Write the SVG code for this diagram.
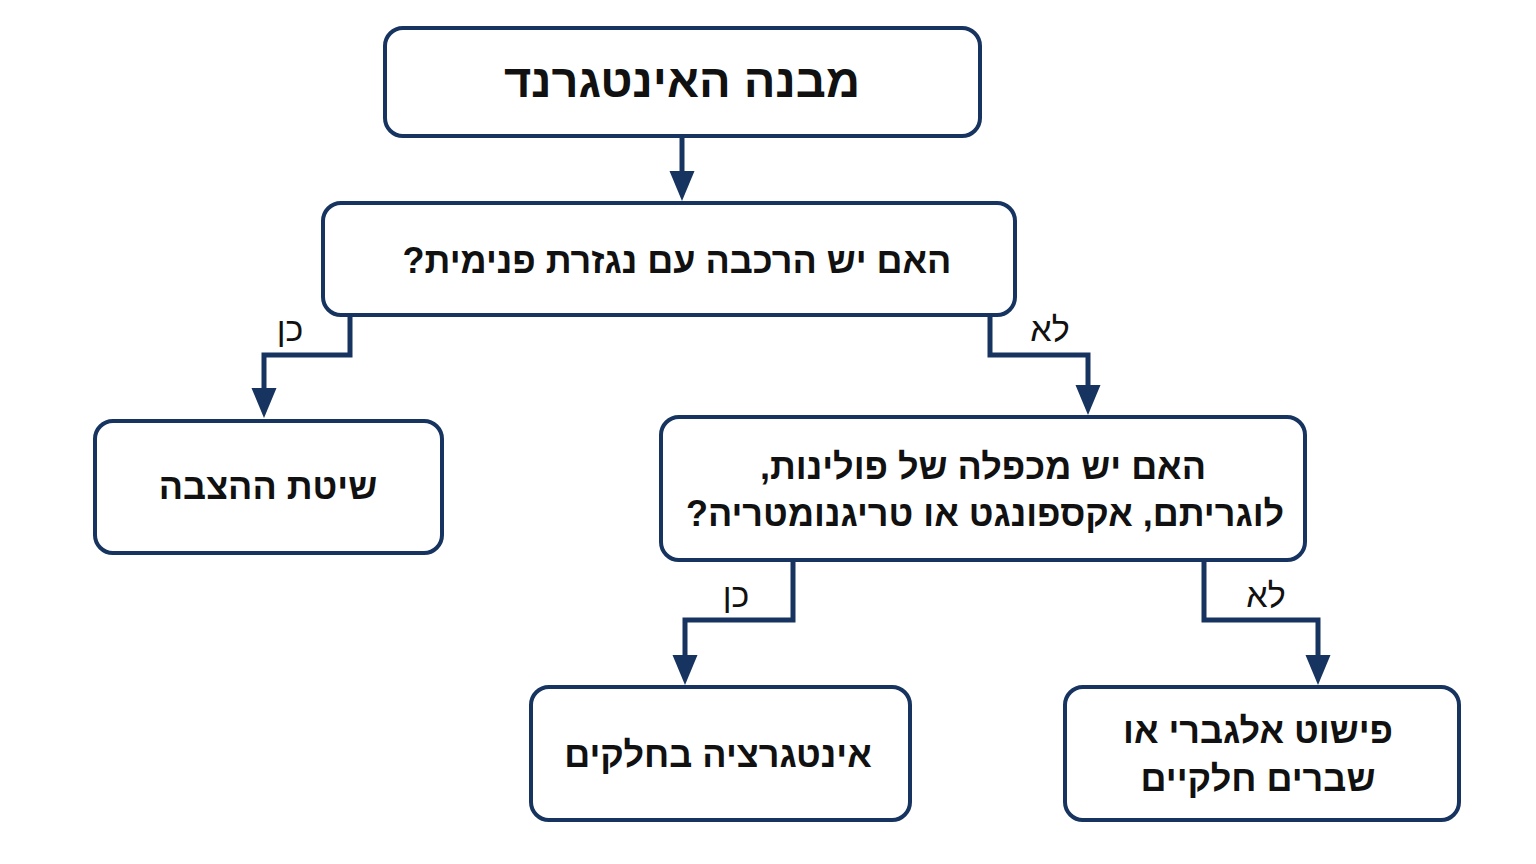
<svg xmlns="http://www.w3.org/2000/svg" width="1536" height="864" viewBox="0 0 1536 864">
<style>
.box{fill:#fff;stroke:#16345f;stroke-width:4}
.t{font-family:"Liberation Sans","DejaVu Sans",sans-serif;font-size:36px;fill:#111;text-anchor:middle;direction:rtl;font-weight:bold}
.lbl{font-family:"Liberation Sans","DejaVu Sans",sans-serif;font-size:34px;fill:#111;text-anchor:middle;direction:rtl}
.c{fill:none;stroke:#16345f;stroke-width:5}
</style>
<defs><marker id="a" markerWidth="6" markerHeight="6" refX="3" refY="3" orient="auto" markerUnits="strokeWidth"><path d="M0,0.5 L6,3 L0,5.5 Z" fill="#16345f"/></marker></defs>
<rect width="1536" height="864" fill="#fff"/>
<g id="connectors">
<path class="c" d="M682,136 V186" marker-end="url(#a)"/>
<path class="c" d="M350,315 V355 H264 V403" marker-end="url(#a)"/>
<path class="c" d="M990,315 V355 H1088 V400" marker-end="url(#a)"/>
<path class="c" d="M793,560 V620 H685 V670" marker-end="url(#a)"/>
<path class="c" d="M1204,560 V620 H1318 V670" marker-end="url(#a)"/>
<text class="lbl" x="290" y="341">כן</text>
<text class="lbl" x="1050" y="341">לא</text>
<text class="lbl" x="736" y="607">כן</text>
<text class="lbl" x="1266" y="607">לא</text>
</g>
<g id="n1"><rect class="box" x="385" y="28" width="595" height="108" rx="18"/><text class="t" x="682" y="97" style="font-size:47px">מבנה האינטגרנד</text></g>
<g id="n2"><rect class="box" x="323" y="203" width="692" height="112" rx="18"/><text class="t" x="677" y="273">האם יש הרכבה עם נגזרת פנימית?</text></g>
<g id="n3"><rect class="box" x="95" y="421" width="347" height="132" rx="18"/><text class="t" x="268" y="499">שיטת ההצבה</text></g>
<g id="n4"><rect class="box" x="661" y="417" width="644" height="143" rx="18"/><text class="t" x="983" y="479">האם יש מכפלה של פולינות,</text><text class="t" x="985" y="526">לוגריתם, אקספונגט או טריגנומטריה?</text></g>
<g id="n5"><rect class="box" x="531" y="687" width="379" height="133" rx="18"/><text class="t" x="718" y="767">אינטגרציה בחלקים</text></g>
<g id="n6"><rect class="box" x="1065" y="687" width="394" height="133" rx="18"/><text class="t" x="1258" y="743">פישוט אלגברי או</text><text class="t" x="1258" y="791">שברים חלקיים</text></g>
</svg>
